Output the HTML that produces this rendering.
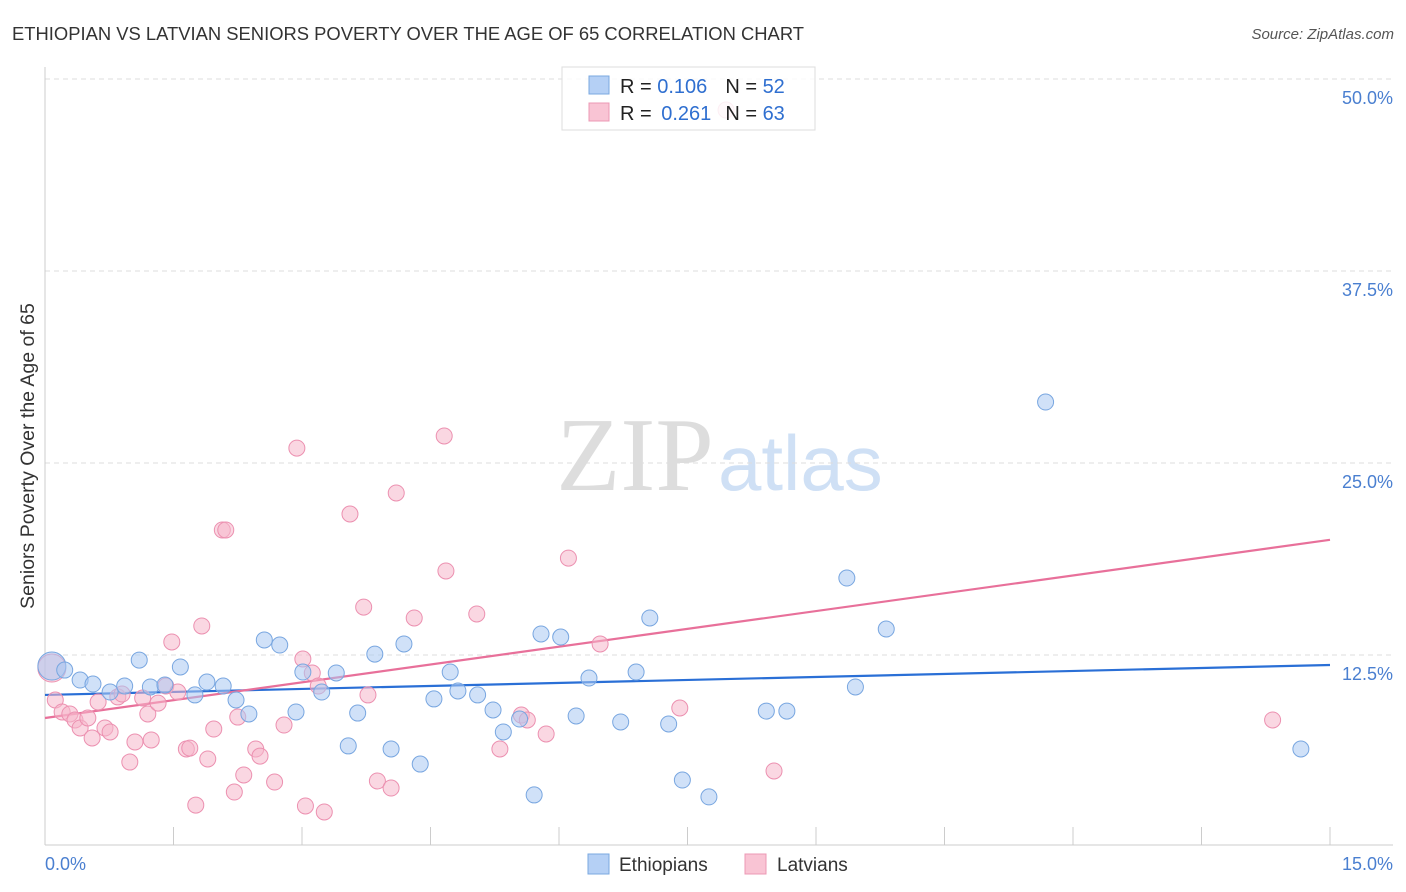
<!DOCTYPE html>
<html><head><meta charset="utf-8"><style>
body{margin:0;background:#fff;font-family:"Liberation Sans",sans-serif;}
svg{display:block}
</style></head><body>
<svg id="chart" width="1406" height="892" xmlns="http://www.w3.org/2000/svg">
<text x="12" y="40" font-size="18.4" fill="#333">ETHIOPIAN VS LATVIAN SENIORS POVERTY OVER THE AGE OF 65 CORRELATION CHART</text>
<text x="1394" y="39" font-size="15" fill="#555" font-style="italic" text-anchor="end">Source: ZipAtlas.com</text>
<g>
<text x="635" y="490" font-size="105" fill="#ddd" font-family="Liberation Serif,serif" text-anchor="middle">ZIP</text>
<text x="718" y="490" font-size="78" fill="#cfe0f5">atlas</text>
</g>
<g id="grid"></g>
<g id="axes"></g>
<g id="lines"></g>
<g id="pts"></g>
<g>
<rect x="562" y="67" width="253" height="63" fill="#fff" fill-opacity="0.85" stroke="#ddd"/>
<rect x="589" y="76" width="20" height="18" fill="#b5d0f5" stroke="#7aa8e0"/>
<rect x="589" y="103" width="20" height="18" fill="#f9c4d4" stroke="#ec98b4"/>
<text x="620" y="93" font-size="20" fill="#222">R = <tspan fill="#2f6fd0">0.106</tspan><tspan dx="18">N = </tspan><tspan fill="#2f6fd0">52</tspan></text>
<text x="620" y="120" font-size="20" fill="#222">R = <tspan fill="#2f6fd0" dx="4">0.261</tspan><tspan dx="14">N = </tspan><tspan fill="#2f6fd0">63</tspan></text>
</g>
<g>
<rect x="588" y="854" width="21" height="20" fill="#b5d0f5" stroke="#7aa8e0"/>
<text x="619" y="871" font-size="19" fill="#333">Ethiopians</text>
<rect x="745" y="854" width="21" height="20" fill="#f9c4d4" stroke="#ec98b4"/>
<text x="777" y="871" font-size="19" fill="#333">Latvians</text>
</g>
<text transform="translate(34,456) rotate(-90)" font-size="19.5" fill="#333" text-anchor="middle">Seniors Poverty Over the Age of 65</text>
</svg>
<script>
const yTicks=[12.5,25,37.5,50];
const yTickLabels=["12.5%","25.0%","37.5%","50.0%"];
const xTickCount=10;
const blueX=[0.08,0.23,0.41,0.56,0.76,0.93,1.10,1.23,1.40,1.58,1.75,1.89,2.08,2.23,2.38,2.56,2.74,2.93,3.01,3.23,3.40,3.54,3.65,3.85,4.04,4.19,4.38,4.54,4.73,4.82,5.05,5.23,5.35,5.54,5.71,5.79,6.02,6.20,6.35,6.72,6.90,7.06,7.28,7.44,7.75,8.42,8.66,9.36,9.46,9.82,11.68,14.66];
const blueY=[11.78,11.52,10.87,10.61,10.09,10.48,12.17,10.42,10.55,11.72,9.90,10.74,10.48,9.57,8.66,13.48,13.15,8.79,11.39,10.09,11.33,6.58,8.72,12.56,6.38,13.22,5.40,9.64,11.39,10.16,9.90,8.92,7.49,8.33,3.39,13.87,13.67,8.53,11.00,8.14,11.39,14.91,8.01,4.36,3.26,8.85,8.85,17.51,10.42,14.19,28.97,6.38];
const pinkX=[0.08,0.12,0.20,0.29,0.35,0.41,0.50,0.55,0.62,0.70,0.76,0.85,0.90,0.99,1.05,1.14,1.20,1.24,1.32,1.41,1.48,1.55,1.65,1.69,1.76,1.83,1.90,1.97,2.07,2.11,2.25,2.21,2.32,2.46,2.51,2.68,2.79,2.94,3.01,3.04,3.12,3.19,3.26,3.56,3.72,3.77,3.88,4.04,4.10,4.31,4.66,4.68,5.04,5.31,5.56,5.63,5.85,6.11,6.48,7.41,7.95,8.51,14.33];
const pinkY=[11.65,9.57,8.79,8.66,8.27,7.75,8.40,7.10,9.44,7.75,7.49,9.77,9.96,5.53,6.84,9.70,8.66,6.97,9.37,10.48,13.35,10.09,6.38,6.44,2.73,14.39,5.73,7.68,20.64,20.64,8.46,3.58,4.69,6.38,5.92,4.23,7.94,25.97,12.24,2.67,11.33,10.48,2.28,21.68,15.62,9.90,4.30,3.84,23.05,14.91,26.76,17.97,15.17,6.38,8.59,8.27,7.36,18.81,13.22,9.05,47.98,4.95,8.27];
const blueTrend=[9.9,11.85];
const pinkTrend=[8.4,20.0];
const NS="http://www.w3.org/2000/svg";
function xs(v){return 45+v/15*1285;}
function ys(v){return 847-v/12.5*192;}
function mk(tag,attrs,parent){const e=document.createElementNS(NS,tag);for(const k in attrs)e.setAttribute(k,attrs[k]);document.getElementById(parent).appendChild(e);return e;}
yTicks.forEach((t,i)=>{
 const l=mk('line',{x1:45,x2:1393,y1:ys(t),y2:ys(t),stroke:'#ddd','stroke-dasharray':'5,4'},'grid');
 
 
 const tx=mk('text',{x:1393,y:ys(t)+25,'font-size':18,fill:'#4a7fd0','text-anchor':'end'},'grid');
 tx.textContent=yTickLabels[i];
 
 
});
const ya=mk('line',{x1:45,x2:45,y1:67,y2:845,stroke:'#ccc'},'axes');


const xa=mk('line',{x1:45,x2:1393,y1:845,y2:845,stroke:'#ccc'},'axes');


for(let i=0;i<=xTickCount;i++){
 const t=mk('line',{x1:xs(i*1.5),x2:xs(i*1.5),y1:827,y2:845,stroke:'#ccc'},'axes');
 
 
}
const x0=mk('text',{x:45,y:870,'font-size':18,fill:'#4a7fd0'},'axes');x0.textContent='0.0%';


const x1=mk('text',{x:1393,y:870,'font-size':18,fill:'#4a7fd0','text-anchor':'end'},'axes');x1.textContent='15.0%';


function series(X,Y,fill,stroke,name){
 X.forEach((x,i)=>{
  const c=mk('circle',{cx:xs(x),cy:ys(Y[i]),r:i===0?14:8,fill:fill,'fill-opacity':0.55,stroke:stroke,'stroke-width':1},'pts');
  
  
 });
}
series(pinkX,pinkY,'#f6b6ca','#ec90b0','latvian-point');
series(blueX,blueY,'#a9c9f2','#78a6e0','ethiopian-point');
const bl=mk('line',{x1:xs(0),x2:xs(15),y1:ys(blueTrend[0]),y2:ys(blueTrend[1]),stroke:'#2a6fd6','stroke-width':2.2},'lines');


const pl=mk('line',{x1:xs(0),x2:xs(15),y1:ys(pinkTrend[0]),y2:ys(pinkTrend[1]),stroke:'#e8709a','stroke-width':2.2},'lines');


</script>
</body></html>
